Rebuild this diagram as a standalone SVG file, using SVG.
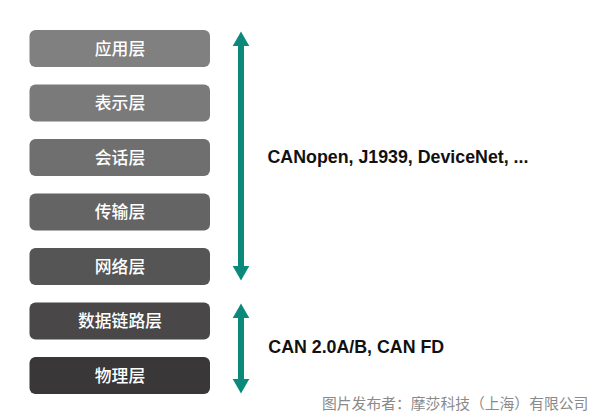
<svg xmlns="http://www.w3.org/2000/svg" width="600" height="417" viewBox="0 0 600 417">
<defs>
<style>
.box{stroke:none}
.lbl{font-family:"Noto Sans CJK SC","Noto Sans",sans-serif;font-size:16.8px;font-weight:500;fill:#ffffff;text-anchor:middle}
.side{font-family:"Liberation Sans",Arial,sans-serif;font-weight:bold;font-size:17.8px;fill:#111111}
.cap{font-family:"Noto Sans CJK SC",sans-serif;font-size:14.8px;fill:#8a8a8a}
.shaft{stroke:#0b8a7c;stroke-width:6;fill:none}
.head{fill:#0b8a7c}
</style>
</defs>
<rect width="600" height="417" fill="#ffffff"/>
<g id="layer-app"><rect class="box" x="29.5" y="30" width="180.5" height="37" rx="6" fill="#808080"/><text class="lbl" x="120" y="54.5">应用层</text></g>
<g id="layer-presentation"><rect class="box" x="29.5" y="84.5" width="180.5" height="37" rx="6" fill="#7a7a7a"/><text class="lbl" x="120" y="109">表示层</text></g>
<g id="layer-session"><rect class="box" x="29.5" y="139" width="180.5" height="37" rx="6" fill="#6f6f6f"/><text class="lbl" x="120" y="163.5">会话层</text></g>
<g id="layer-transport"><rect class="box" x="29.5" y="193.5" width="180.5" height="37" rx="6" fill="#646464"/><text class="lbl" x="120" y="218">传输层</text></g>
<g id="layer-network"><rect class="box" x="29.5" y="248" width="180.5" height="37" rx="6" fill="#565555"/><text class="lbl" x="120" y="272.5">网络层</text></g>
<g id="layer-datalink"><rect class="box" x="29.5" y="302.5" width="180.5" height="37" rx="6" fill="#494747"/><text class="lbl" x="120" y="327">数据链路层</text></g>
<g id="layer-physical"><rect class="box" x="29.5" y="357" width="180.5" height="37" rx="6" fill="#393737"/><text class="lbl" x="120" y="381.5">物理层</text></g>
<g id="connectors">
<line class="shaft" x1="241" y1="44" x2="241" y2="268"/>
<polygon class="head" points="241,31.5 249.3,46 232.7,46"/>
<polygon class="head" points="241,280.5 249.3,266 232.7,266"/>
<line class="shaft" x1="241" y1="316" x2="241" y2="380"/>
<polygon class="head" points="241,303.5 249.3,318 232.7,318"/>
<polygon class="head" points="241,393.5 249.3,379 232.7,379"/>
</g>
<g id="label-upper"><text class="side" x="267.5" y="163.3">CANopen, J1939, DeviceNet, ...</text></g>
<g id="label-lower"><text class="side" x="268.3" y="353">CAN 2.0A/B, CAN FD</text></g>
<text class="cap" x="322" y="409">图片发布者：摩莎科技（上海）有限公司</text>
</svg>
